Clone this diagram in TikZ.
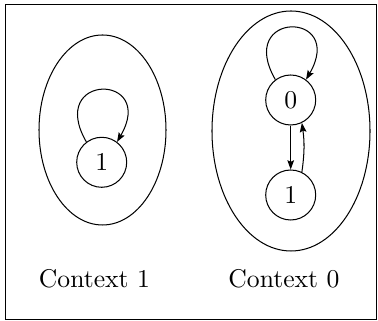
\documentclass[tikz,border=0pt]{standalone}
\usetikzlibrary{arrows.meta}

\begin{document}
\begin{tikzpicture}[x=0.39pt, y=0.39pt,
    >={Stealth[length=3.6pt,width=2.6pt,inset=0.6pt]},
    state/.style={circle, draw, minimum size=19.5pt, inner sep=0pt},
    ctx/.style={draw}]
      \useasboundingbox (0,0) rectangle (378,321);

      % --- Outer frame ---
      \draw[line width=0.75pt] (5.5,1.5) rectangle (376.5,316.5);

      % --- Positions ---
      \coordinate (c1) at (102.5,191);
      \coordinate (c0) at (291,190);

      % --- Context ellipses ---
      \draw[ctx] (c1) ellipse (63.5 and 95);
      \draw[ctx] (c0) ellipse (79 and 120);

      % --- States ---
      \node[state] (c1s1) at (101.7,158.7) {1};
      \node[state] (c0s0) at (290.7,221) {0};
      \node[state] (c0s1) at (290.7,126) {1};

      % --- Self loops ---
      \draw[->] (c1s1.127) .. controls +(120:80) and +(60:80) .. (c1s1.53);
      \draw[->] (c0s0.127) .. controls +(120:80) and +(60:80) .. (c0s0.53);

      % --- Transitions in context 0 ---
      \draw[->] (c0s0.south) -- (c0s1.north);
      \draw[->] (c0s1.64) to[bend right=8] (c0s0.-64);

      % --- Labels ---
      \node[anchor=base] (lab1) at (94.5,33.7) {Context 1};
      \node[anchor=base] (lab0) at (284,33.7) {Context 0};
\end{tikzpicture}
\end{document}
